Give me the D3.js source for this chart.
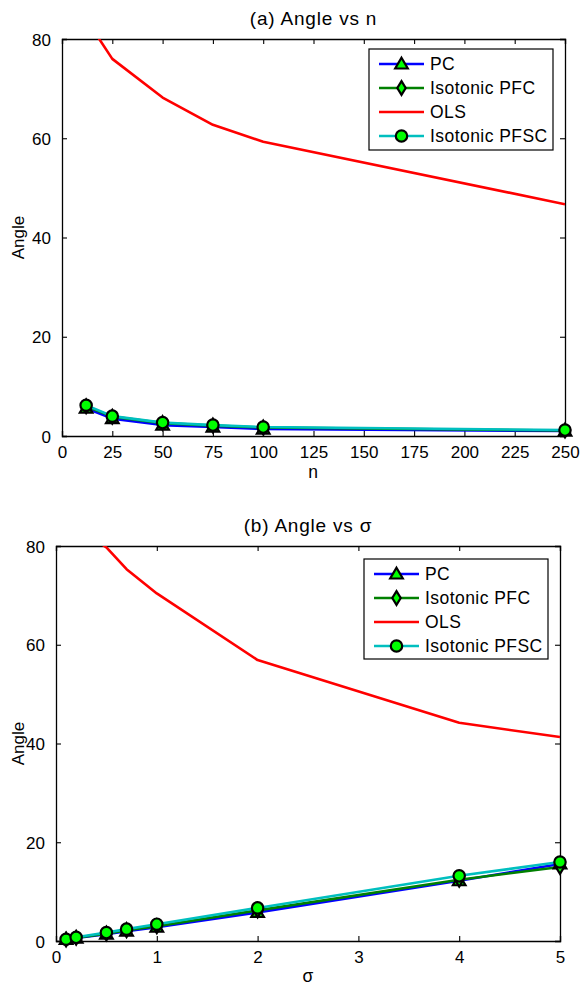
<!DOCTYPE html>
<html><head><meta charset="utf-8">
<script src="https://cdn.jsdelivr.net/npm/d3@7"></script>
<style>
body{margin:0;background:#fff;}
svg{display:block;font-family:"Liberation Sans",Arial,sans-serif;}
</style></head>
<body><svg id="c" width="582" height="988"></svg>
<script>
// ---- data ----
const seriesNames = ["PC", "Isotonic PFC", "OLS", "Isotonic PFSC"];
const nVals = [12, 25, 50, 75, 100, 250];
const pcA   = [5.6, 3.5, 2.2, 1.8, 1.4, 1.0];
const pfcA  = [6.0, 3.9, 2.6, 2.1, 1.7, 1.1];
const olsA  = [84, 76, 68.2, 62.7, 59.3, 46.7];
const pfscA = [6.2, 4.0, 2.7, 2.2, 1.8, 1.2];
const nTicks = [0, 25, 50, 75, 100, 125, 150, 175, 200, 225, 250];

const sigmaVals = [0.1, 0.2, 0.5, 0.7, 1, 2, 4, 5];
const pcB   = [0.3, 0.6, 1.4, 2.0, 2.8, 5.8, 12.2, 15.6];
const pfcB  = [0.3, 0.65, 1.5, 2.2, 3.0, 6.2, 12.4, 15.0];
const olsB  = [86, 84, 79.7, 75.3, 70.4, 56.9, 44.2, 41.3];
const pfscB = [0.35, 0.75, 1.7, 2.4, 3.4, 6.7, 13.2, 16.0];
const sigmaTicks = [0, 1, 2, 3, 4, 5];
const angleTicks = [0, 20, 40, 60, 80];

// ---- styles ----
const colors = ["#0000ff", "#008000", "#ff0000", "#00bfbf"];
const markers = ["tri", "dia", null, "circ"];

const svg = d3.select("#c");

function markerPath(type, r) {
  const p = d3.path();
  if (type === "tri") {
    p.moveTo(0, -r * 1.05); p.lineTo(r * 1.05, r * 0.75); p.lineTo(-r * 1.05, r * 0.75); p.closePath();
  } else if (type === "dia") {
    p.moveTo(0, -r * 1.15); p.lineTo(r * 0.7, 0); p.lineTo(0, r * 1.15); p.lineTo(-r * 0.7, 0); p.closePath();
  } else {
    p.arc(0, 0, r * 0.95, 0, 2 * Math.PI);
  }
  return p.toString();
}

function panel(cfg) {
  const g = svg.append("g");
  const x = d3.scaleLinear().domain(cfg.xDomain).range([cfg.left, cfg.right]);
  const y = d3.scaleLinear().domain([0, 80]).range([cfg.bottom, cfg.top]);
  const id = "clip" + cfg.key;
  svg.append("clipPath").attr("id", id).append("rect")
    .attr("x", cfg.left).attr("y", cfg.top)
    .attr("width", cfg.right - cfg.left).attr("height", cfg.bottom - cfg.top);

  const tl = 5;
  const xb = g.append("g").attr("transform", `translate(0,${cfg.bottom})`)
    .call(d3.axisBottom(x).tickValues(cfg.xTicks).tickSize(-tl).tickFormat(d3.format("")));
  const xt = g.append("g").attr("transform", `translate(0,${cfg.top})`)
    .call(d3.axisTop(x).tickValues(cfg.xTicks).tickSize(-tl).tickFormat(""));
  const yl = g.append("g").attr("transform", `translate(${cfg.left},0)`)
    .call(d3.axisLeft(y).tickValues(angleTicks).tickSize(-tl).tickPadding(tl + 6));
  const yr = g.append("g").attr("transform", `translate(${cfg.right},0)`)
    .call(d3.axisRight(y).tickValues(angleTicks).tickSize(-tl).tickFormat(""));
  [xb, xt, yl, yr].forEach(a => {
    a.select(".domain").attr("stroke", "#000").attr("stroke-width", 1.3);
    a.selectAll(".tick line").attr("stroke", "#000").attr("stroke-width", 1.1);
    a.selectAll("text").attr("font-size", 17).attr("fill", "#000").attr("font-family", '"Liberation Sans",Arial,sans-serif');
  });
  xb.selectAll("text").attr("dy", null).attr("y", cfg.xTickBase);
  yl.selectAll("text").attr("dy", "0.36em");

  // lines
  const series = cfg.series;
  const line = d3.line().x((d, i) => x(cfg.xVals[i])).y(d => y(d));
  const lg = g.append("g").attr("clip-path", `url(#${id})`);
  series.forEach((s, k) => {
    lg.append("path").datum(s).attr("d", line).attr("fill", "none")
      .attr("stroke", colors[k]).attr("stroke-width", 2.6).attr("stroke-linejoin", "round");
  });
  // markers
  series.forEach((s, k) => {
    if (!markers[k]) return;
    g.append("g").selectAll("path").data(s).join("path")
      .attr("transform", (d, i) => `translate(${x(cfg.xVals[i])},${y(d)})`)
      .attr("d", markerPath(markers[k], 6))
      .attr("fill", "#00ff00").attr("stroke", "#000").attr("stroke-width", 2.2);
  });

  // title & labels
  g.append("text").attr("x", (cfg.left + cfg.right) / 2).attr("y", cfg.titleBase)
    .attr("text-anchor", "middle").attr("font-size", 19).attr("letter-spacing", 0.8).text(cfg.title);
  g.append("text").attr("x", cfg.xLabelX).attr("y", cfg.xLabelBase)
    .attr("text-anchor", "middle").attr("font-size", 17.5).text(cfg.xLabel);
  g.append("text").attr("transform", `translate(24,${(cfg.top + cfg.bottom) / 2}) rotate(-90)`)
    .attr("text-anchor", "middle").attr("font-size", 17).text("Angle");

  // legend
  const L = cfg.legend;
  const lgd = g.append("g");
  lgd.append("rect").attr("x", L.x).attr("y", L.y).attr("width", L.w).attr("height", L.h)
    .attr("fill", "#fff").attr("stroke", "#000").attr("stroke-width", 1.2);
  seriesNames.forEach((name, k) => {
    const cy = L.y + 15 + k * 24;
    lgd.append("line").attr("x1", L.x + 10).attr("x2", L.x + 55).attr("y1", cy).attr("y2", cy)
      .attr("stroke", colors[k]).attr("stroke-width", 2.6);
    if (markers[k]) {
      lgd.append("path").attr("transform", `translate(${L.x + 32.5},${cy})`)
        .attr("d", markerPath(markers[k], 6))
        .attr("fill", "#00ff00").attr("stroke", "#000").attr("stroke-width", 2.2);
    }
    lgd.append("text").attr("x", L.x + 61).attr("y", cy).attr("dy", "0.36em")
      .attr("font-size", 17.5).attr("letter-spacing", 0.45).text(name);
  });
}

panel({
  key: "a", left: 62, right: 565, top: 39, bottom: 436,
  xDomain: [0, 250], xTicks: nTicks, xVals: nVals,
  series: [pcA, pfcA, olsA, pfscA],
  xTickBase: 22, title: "(a) Angle vs n", titleBase: 24.5,
  xLabel: "n", xLabelX: 313, xLabelBase: 478,
  legend: {x: 369, y: 49, w: 184, h: 101}
});
panel({
  key: "b", left: 56, right: 560, top: 546, bottom: 941,
  xDomain: [0, 5], xTicks: sigmaTicks, xVals: sigmaVals,
  series: [pcB, pfcB, olsB, pfscB],
  xTickBase: 22, title: "(b) Angle vs σ", titleBase: 531.5,
  xLabel: "σ", xLabelX: 308, xLabelBase: 982,
  legend: {x: 364, y: 559, w: 184, h: 100}
});
</script></body></html>
